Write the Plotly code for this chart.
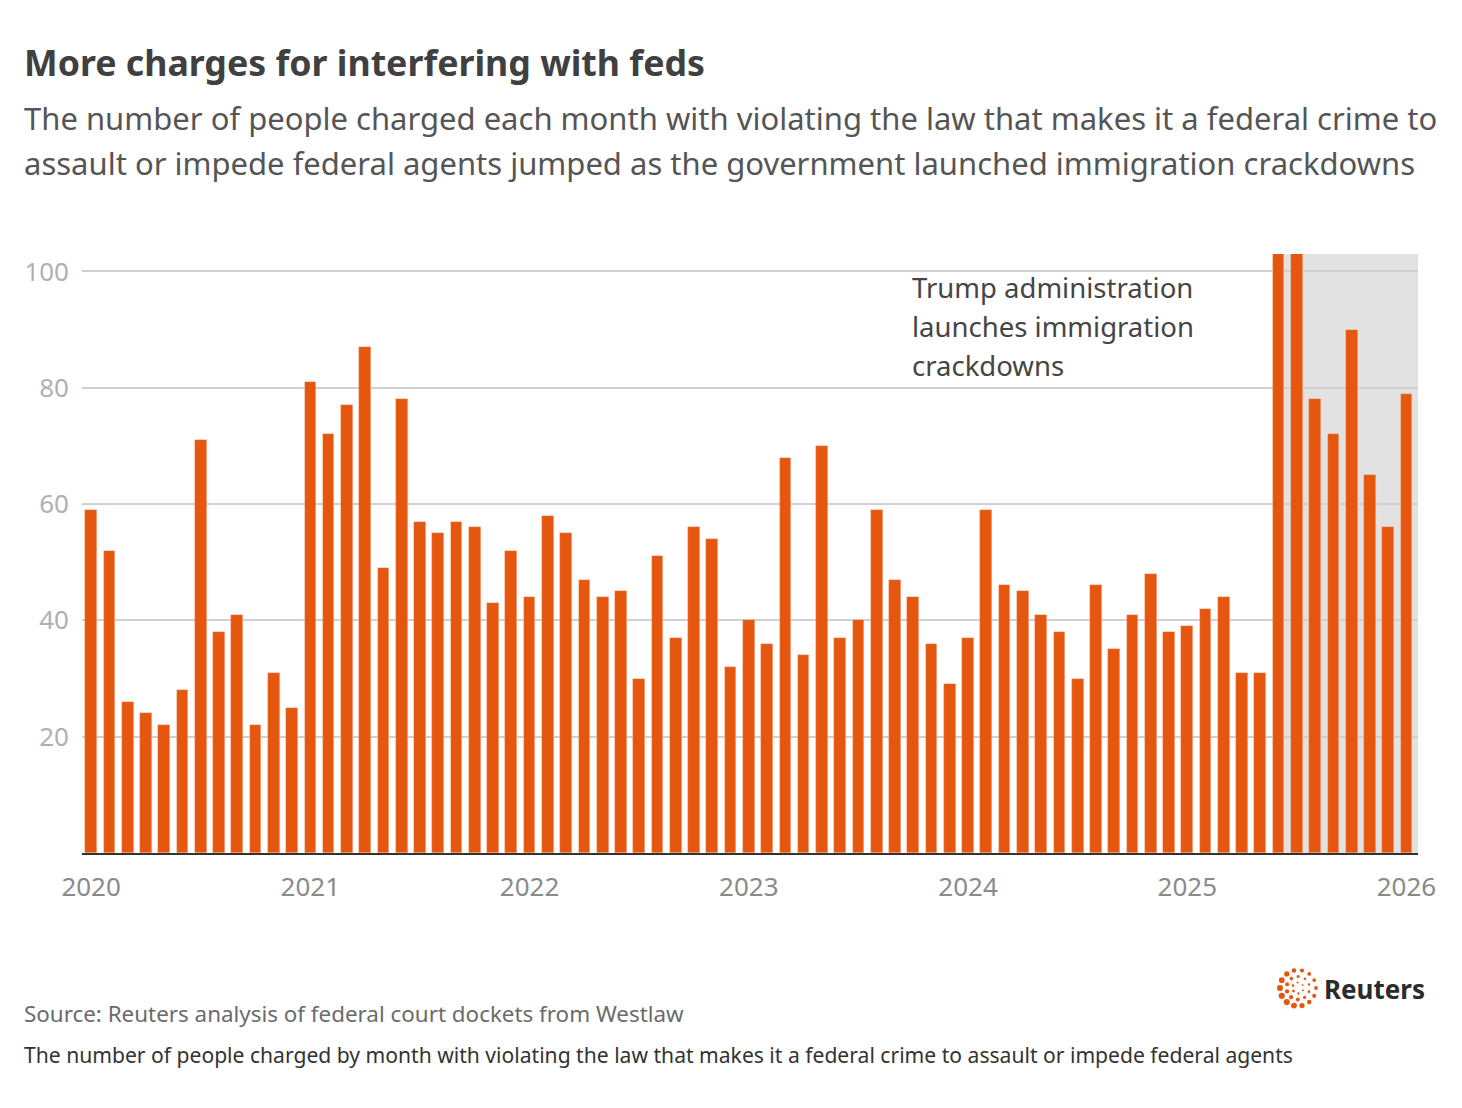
import math
import plotly.graph_objects as go

# ---- data ----
months = [f"{y}-{m:02d}" for y in range(2020, 2026) for m in range(1, 13)] + ["2026-01"]
charges = [
    59, 52, 26, 24, 22, 28, 71, 38, 41, 22, 31, 25,   # 2020
    81, 72, 77, 87, 49, 78, 57, 55, 57, 56, 43, 52,   # 2021
    44, 58, 55, 47, 44, 45, 30, 51, 37, 56, 54, 32,   # 2022
    40, 36, 68, 34, 70, 37, 40, 59, 47, 44, 36, 29,   # 2023
    37, 59, 46, 45, 41, 38, 30, 46, 35, 41, 48, 38,   # 2024
    39, 42, 44, 31, 31, 150, 125, 78, 72, 90, 65, 56, # 2025
    79,                                                # 2026-01
]
year_ticks = ["2020", "2021", "2022", "2023", "2024", "2025", "2026"]
y_ticks = [20, 40, 60, 80, 100]
shade_start = "2025-06"

idx = list(range(len(months)))
tick_pos = [months.index(f"{y}-01") for y in year_ticks]

BAR = "#e5560f"
FONT = "Noto Sans"
bar_w = 0.64
OFF = 8  # page body margin

fig = go.Figure()
fig.add_trace(go.Bar(
    x=idx, y=charges, width=bar_w,
    marker=dict(color=BAR, line=dict(color="rgba(255,200,180,0.6)", width=0.6)),
    hoverinfo="skip",
))

W, H = 1462, 1108
L, T = 82 - OFF, 254 - OFF
R = W - (1418 - OFF)
B = H - (853 - OFF)
pw, ph = W - L - R, H - T - B

def px(xp):
    return (xp - OFF - L) / pw

def py(yp):
    return (H - B - (yp - OFF)) / ph

s0 = months.index(shade_start) - bar_w / 2
x_end = len(months) - 1 + 0.63
fig.add_shape(type="rect", xref="x", yref="paper", x0=s0, x1=x_end, y0=0, y1=1,
              fillcolor="#e2e2e2", line_width=0, layer="between")

ann = []
def txt(text, x, y, size, color, bold=False, xanchor="left"):
    ann.append(dict(text=f"<b>{text}</b>" if bold else text, x=px(x), y=py(y),
                    xref="paper", yref="paper", xanchor=xanchor, yanchor="middle",
                    showarrow=False, font=dict(family=FONT, size=size, color=color)))

txt("More charges for interfering with feds", 22, 62, 35.7, "#404040", bold=True)
txt("The number of people charged each month with violating the law that makes it a federal crime to",
    22, 118, 31, "#555555")
txt("assault or impede federal agents jumped as the government launched immigration crackdowns",
    22, 163, 31, "#555555")
for i, line in enumerate(["Trump administration", "launches immigration", "crackdowns"]):
    txt(line, 910, 287 + 39 * i, 27.5, "#454545")
txt("Source: Reuters analysis of federal court dockets from Westlaw", 22, 1013, 22.4, "#6b6b6b")
txt("The number of people charged by month with violating the law that makes it a federal crime to assault or impede federal agents",
    22, 1054, 21.1, "#333333")
txt("Reuters", 1322, 989, 26, "#2b2b2b", bold=True)

# Reuters logo dots
shapes = []
cx, cy = px(1298), py(988)
for ring, n, r, s in [(0, 14, 18, 2.6), (1, 10, 11.5, 1.8), (2, 6, 5.5, 1.2)]:
    for k in range(n):
        a = 2 * math.pi * k / n + ring * 0.3
        sz = s * (0.7 + 0.5 * (0.5 + 0.5 * math.cos(a - 3.6)))
        dx, dy = r * math.cos(a), r * math.sin(a)
        shapes.append(dict(type="circle", xref="paper", yref="paper",
                           xsizemode="pixel", ysizemode="pixel",
                           xanchor=cx, yanchor=cy,
                           x0=dx - sz, x1=dx + sz, y0=dy - sz, y1=dy + sz,
                           fillcolor=BAR, line_width=0))

fig.update_layout(
    width=W, height=H, autosize=False,
    margin=dict(l=L, r=R, t=T, b=B),
    paper_bgcolor="white", plot_bgcolor="white",
    showlegend=False, bargap=0,
    annotations=ann,
    shapes=list(fig.layout.shapes) + shapes,
    font=dict(family=FONT),
    xaxis=dict(range=[-0.5, x_end], tickvals=tick_pos, ticktext=year_ticks,
               showgrid=False, zeroline=False, showline=True, linecolor="#333333",
               linewidth=2, ticks="", tickfont=dict(size=26, color="#8a8a8a"),
               ticklabelstandoff=10),
    yaxis=dict(range=[0, 103], tickvals=y_ticks, showgrid=True, gridcolor="#d0d0d0",
               gridwidth=1.6, zeroline=False, showline=False, ticks="",
               tickfont=dict(size=26, color="#b0b0b0"), ticklabelstandoff=12),
)

fig.write_html("out.html")
